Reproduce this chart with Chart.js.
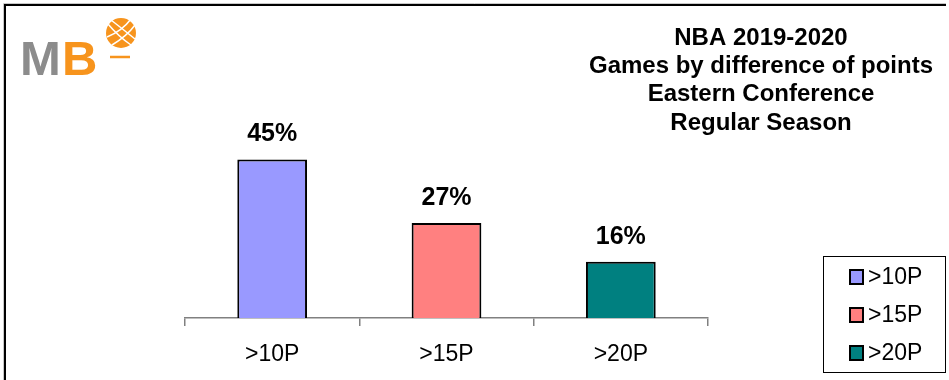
<!DOCTYPE html>
<html lang="en">
<head>
<meta charset="UTF-8">
<title>NBA 2019-2020 - Games by difference of points</title>
<script src="https://cdn.jsdelivr.net/npm/chart.js"></script>
<style>
  html, body { margin: 0; padding: 0; background: #fff; }
  #wrap { width: 949px; height: 380px; position: relative; }
</style>
</head>
<body>
<div id="wrap"><canvas id="grafico"></canvas></div>
<script>
// data
const categorias = ['>10P', '>15P', '>20P'];
const porcentajes = [45, 27, 16];
const colores = ['#9999FF', '#FF8080', '#008080'];
const titulo = ['NBA 2019-2020', 'Games by difference of points', 'Eastern Conference', 'Regular Season'];

const FONT = '"Liberation Sans", Arial, sans-serif';

// marco, logo, titulo y leyenda
const decoracion = {
  id: 'decoracion',
  beforeDraw(chart) {
    const ctx = chart.ctx;
    ctx.save();
    // marco exterior (solo arriba e izquierda se ven)
    ctx.strokeStyle = '#c8c8c8';
    ctx.lineWidth = 1;
    ctx.beginPath();
    ctx.moveTo(3.5, 380); ctx.lineTo(3.5, 3.5); ctx.lineTo(946, 3.5);
    ctx.stroke();
    ctx.strokeStyle = '#000';
    ctx.lineWidth = 2;
    ctx.beginPath();
    ctx.moveTo(5, 380); ctx.lineTo(5, 5); ctx.lineTo(946, 5);
    ctx.stroke();
    ctx.restore();
  },
  afterDraw(chart) {
    const ctx = chart.ctx;
    ctx.save();

    // logo MB
    ctx.font = 'bold 49px ' + FONT;
    ctx.textBaseline = 'alphabetic';
    ctx.textAlign = 'left';
    ctx.fillStyle = '#8c8c8c';
    ctx.fillText('M', 20, 75);
    ctx.fillStyle = '#f7941d';
    ctx.fillText('B', 62, 75);
    // balon
    ctx.beginPath();
    ctx.arc(121, 33, 15, 0, Math.PI * 2);
    ctx.fill();
    ctx.strokeStyle = '#fff';
    ctx.lineWidth = 1.5;
    ctx.beginPath();
    ctx.moveTo(108, 24); ctx.quadraticCurveTo(118, 36, 131, 45);
    ctx.moveTo(111, 20); ctx.quadraticCurveTo(124, 30, 135, 39);
    ctx.moveTo(107, 37); ctx.quadraticCurveTo(122, 31, 131, 19);
    ctx.moveTo(112, 45); ctx.quadraticCurveTo(127, 36, 135, 25);
    ctx.stroke();
    ctx.strokeStyle = '#f7941d';
    ctx.lineWidth = 2.5;
    ctx.beginPath();
    ctx.moveTo(110, 57); ctx.lineTo(130, 57);
    ctx.stroke();

    // titulo
    ctx.fillStyle = '#000';
    ctx.font = 'bold 24px ' + FONT;
    ctx.textAlign = 'center';
    ctx.textBaseline = 'middle';
    titulo.forEach((t, i) => ctx.fillText(t, 761, 38 + i * 28.3));

    // etiquetas de valor
    ctx.font = 'bold 25px ' + FONT;
    const meta = chart.getDatasetMeta(0);
    meta.data.forEach((bar, i) => {
      ctx.fillText(porcentajes[i] + '%', bar.x, bar.y - 25);
    });

    // leyenda
    ctx.strokeStyle = '#000';
    ctx.lineWidth = 1;
    ctx.strokeRect(823.5, 256.5, 122, 116);
    ctx.font = '23px ' + FONT;
    ctx.textAlign = 'left';
    categorias.forEach((c, i) => {
      const y = 277 + i * 38;
      ctx.fillStyle = colores[i];
      ctx.fillRect(850, y - 7, 13, 14);
      ctx.lineWidth = 2;
      ctx.strokeRect(850, y - 7, 13, 14);
      ctx.fillStyle = '#000';
      ctx.fillText(c, 868, y + 1);
    });
    ctx.restore();
  }
};

const ctx = document.getElementById('grafico').getContext('2d');
const grafico = new Chart(ctx, {
  type: 'bar',
  data: {
    labels: categorias,
    datasets: [{
      data: porcentajes,
      backgroundColor: colores,
      borderColor: '#000',
      borderWidth: 2,
      borderSkipped: 'bottom',
      categoryPercentage: 1,
      barPercentage: 0.4
    }]
  },
  options: {
    responsive: true,
    maintainAspectRatio: false,
    animation: false,
    layout: { padding: { left: 185, right: 241, top: 142, bottom: 0 } },
    plugins: {
      legend: { display: false },
      title: { display: false },
      tooltip: { enabled: false }
    },
    scales: {
      y: { display: false, min: 0, max: 50 },
      x: {
        afterFit(scale) { scale.height = 62; },
        border: { display: true, color: '#808080', width: 1.5 },
        grid: {
          offset: true,
          drawOnChartArea: false,
          drawTicks: true,
          tickLength: 8,
          color: '#808080',
          lineWidth: 1.5
        },
        ticks: {
          color: '#000',
          padding: 15,
          font: { family: FONT, size: 23 }
        }
      }
    }
  },
  plugins: [decoracion]
});
</script>
</body>
</html>
